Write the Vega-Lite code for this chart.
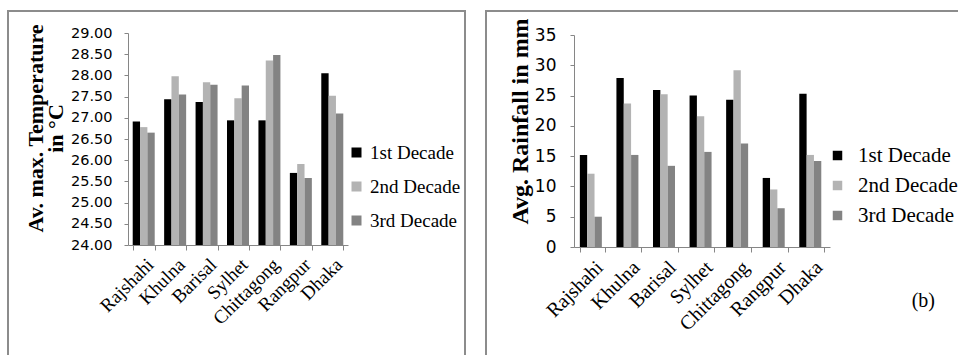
{
  "$schema": "https://vega.github.io/schema/vega-lite/v6.json",
  "background": "white",
  "padding": {"left": 7, "top": 10, "right": 0, "bottom": 0},
  "datasets": {
    "temp": [
      {"city": "Rajshahi", "decade": "1st Decade", "value": 26.91},
      {"city": "Rajshahi", "decade": "2nd Decade", "value": 26.78},
      {"city": "Rajshahi", "decade": "3rd Decade", "value": 26.65},
      {"city": "Khulna", "decade": "1st Decade", "value": 27.44},
      {"city": "Khulna", "decade": "2nd Decade", "value": 27.98},
      {"city": "Khulna", "decade": "3rd Decade", "value": 27.55},
      {"city": "Barisal", "decade": "1st Decade", "value": 27.37},
      {"city": "Barisal", "decade": "2nd Decade", "value": 27.84},
      {"city": "Barisal", "decade": "3rd Decade", "value": 27.78},
      {"city": "Sylhet", "decade": "1st Decade", "value": 26.94},
      {"city": "Sylhet", "decade": "2nd Decade", "value": 27.46},
      {"city": "Sylhet", "decade": "3rd Decade", "value": 27.76},
      {"city": "Chittagong", "decade": "1st Decade", "value": 26.94},
      {"city": "Chittagong", "decade": "2nd Decade", "value": 28.35},
      {"city": "Chittagong", "decade": "3rd Decade", "value": 28.48},
      {"city": "Rangpur", "decade": "1st Decade", "value": 25.7},
      {"city": "Rangpur", "decade": "2nd Decade", "value": 25.91},
      {"city": "Rangpur", "decade": "3rd Decade", "value": 25.58},
      {"city": "Dhaka", "decade": "1st Decade", "value": 28.05},
      {"city": "Dhaka", "decade": "2nd Decade", "value": 27.52},
      {"city": "Dhaka", "decade": "3rd Decade", "value": 27.1}
    ],
    "rain": [
      {"city": "Rajshahi", "decade": "1st Decade", "value": 15.2},
      {"city": "Rajshahi", "decade": "2nd Decade", "value": 12.1},
      {"city": "Rajshahi", "decade": "3rd Decade", "value": 5.0},
      {"city": "Khulna", "decade": "1st Decade", "value": 27.9},
      {"city": "Khulna", "decade": "2nd Decade", "value": 23.7},
      {"city": "Khulna", "decade": "3rd Decade", "value": 15.2},
      {"city": "Barisal", "decade": "1st Decade", "value": 25.9},
      {"city": "Barisal", "decade": "2nd Decade", "value": 25.2},
      {"city": "Barisal", "decade": "3rd Decade", "value": 13.4},
      {"city": "Sylhet", "decade": "1st Decade", "value": 25.0},
      {"city": "Sylhet", "decade": "2nd Decade", "value": 21.6},
      {"city": "Sylhet", "decade": "3rd Decade", "value": 15.7},
      {"city": "Chittagong", "decade": "1st Decade", "value": 24.3},
      {"city": "Chittagong", "decade": "2nd Decade", "value": 29.2},
      {"city": "Chittagong", "decade": "3rd Decade", "value": 17.1},
      {"city": "Rangpur", "decade": "1st Decade", "value": 11.4},
      {"city": "Rangpur", "decade": "2nd Decade", "value": 9.5},
      {"city": "Rangpur", "decade": "3rd Decade", "value": 6.4},
      {"city": "Dhaka", "decade": "1st Decade", "value": 25.3},
      {"city": "Dhaka", "decade": "2nd Decade", "value": 15.2},
      {"city": "Dhaka", "decade": "3rd Decade", "value": 14.2}
    ]
  },
  "spacing": 19,
  "hconcat": [
    {
      "width": 457,
      "height": 350,
      "data": {"name": "temp"},
      "mark": {"type": "bar"},
      "encoding": {
        "x": {
          "field": "city", "type": "nominal", "sort": null,
          "scale": {"range": [120, 340], "paddingInner": 0.3, "paddingOuter": 0.15},
          "axis": {"title": null, "labelAngle": -45, "labelFont": "Liberation Serif", "labelFontSize": 19, "tickBand": "extent", "tickSize": 5, "offset": -116, "labelPadding": 5}
        },
        "xOffset": {"field": "decade", "type": "nominal", "sort": null, "scale": {"paddingInner": 0, "paddingOuter": 0}},
        "y": {
          "field": "value", "type": "quantitative",
          "scale": {"domain": [24, 29], "range": [234, 22], "zero": false, "nice": false},
          "axis": {
            "title": ["Av. max. Temperature", "in °C"],
            "titleFont": "Liberation Serif", "titleFontWeight": "bold", "titleFontSize": 22, "titleLineHeight": 19.5,
            "titleY": 117, "titlePadding": 3,
            "offset": -120,
            "values": [24, 24.5, 25, 25.5, 26, 26.5, 27, 27.5, 28, 28.5, 29],
            "format": ".2f", "labelFont": "DejaVu Sans", "labelFontSize": 14.5, "labelPadding": 12, "tickSize": 4
          }
        },
        "y2": {"datum": 24},
        "color": {
          "field": "decade", "type": "nominal", "sort": null,
          "scale": {"domain": ["1st Decade", "2nd Decade", "3rd Decade"], "range": ["#000000", "#b3b3b3", "#838383"]},
          "legend": {"title": null, "orient": "none", "legendX": 339, "legendY": 132, "padding": 0, "symbolType": "square", "symbolSize": 100, "symbolStrokeWidth": 0, "labelFont": "Liberation Serif", "labelFontSize": 19, "labelColor": "#000000", "labelOffset": 4, "rowPadding": 14}
        }
      }
    },
    {
      "width": 480,
      "height": 350,
      "data": {"name": "rain"},
      "title": {"text": "(b)", "orient": "bottom", "anchor": "end", "frame": "group", "offset": -70, "dx": -31, "font": "Liberation Serif", "fontSize": 20, "fontWeight": "normal", "color": "#000000"},
      "mark": {"type": "bar"},
      "encoding": {
        "x": {
          "field": "city", "type": "nominal", "sort": null,
          "scale": {"range": [88, 344], "paddingInner": 0.32, "paddingOuter": 0.16},
          "axis": {"title": null, "labelAngle": -45, "labelFont": "Liberation Serif", "labelFontSize": 20, "tickBand": "extent", "tickSize": 5, "offset": -114, "labelPadding": 5}
        },
        "xOffset": {"field": "decade", "type": "nominal", "sort": null, "scale": {"paddingInner": 0, "paddingOuter": 0}},
        "y": {
          "field": "value", "type": "quantitative",
          "scale": {"domain": [0, 35], "range": [236, 24], "nice": false},
          "axis": {
            "title": "Avg. Rainfall in mm",
            "titleFont": "Liberation Serif", "titleFontWeight": "bold", "titleFontSize": 24,
            "titleY": 110, "titlePadding": 2,
            "offset": -88,
            "values": [0, 5, 10, 15, 20, 25, 30, 35],
            "labelFont": "DejaVu Sans", "labelFontSize": 17, "labelPadding": 14, "tickSize": 4
          }
        },
        "y2": {"datum": 0},
        "color": {
          "field": "decade", "type": "nominal", "sort": null,
          "scale": {"domain": ["1st Decade", "2nd Decade", "3rd Decade"], "range": ["#000000", "#b3b3b3", "#838383"]},
          "legend": {"title": null, "orient": "none", "legendX": 341, "legendY": 134, "padding": 0, "symbolType": "square", "symbolSize": 90, "symbolStrokeWidth": 0, "labelFont": "Liberation Serif", "labelFontSize": 21, "labelColor": "#000000", "labelOffset": 10, "rowPadding": 8}
        }
      }
    }
  ],
  "resolve": {"scale": {"color": "independent", "x": "independent", "y": "independent"}, "legend": {"color": "independent"}},
  "config": {
    "view": {"stroke": "#8c8c8c", "strokeWidth": 2},
    "axis": {"grid": false, "domainColor": "#868686", "tickColor": "#868686", "labelColor": "#000000", "titleColor": "#000000"}
  }
}
